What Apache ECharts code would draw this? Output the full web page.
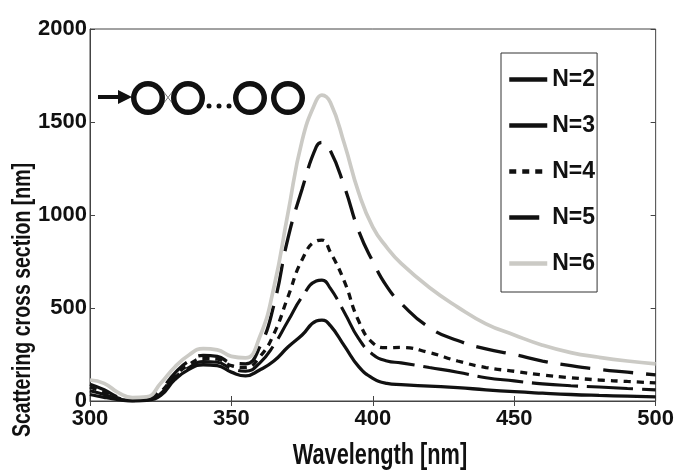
<!DOCTYPE html>
<html>
<head>
<meta charset="utf-8">
<script src="https://cdn.jsdelivr.net/npm/echarts@6/dist/echarts.min.js"></script>
<style>
  html, body { margin: 0; padding: 0; background: #fff; }
  #chart { width: 677px; height: 471px; }
</style>
</head>
<body>
<div id="chart"></div>
<script>
// wavelength (nm)
const wavelength = [300, 305, 310, 315, 320, 325, 330, 335, 340, 345, 350, 355, 360, 365, 370, 375, 380, 382, 385, 390, 395, 400, 405, 410, 420, 430, 440, 450, 460, 470, 480, 490, 500];

// scattering cross section (nm)
const n2 = [35, 20, 8, 0, 4, 30, 115, 170, 195, 190, 155, 135, 167, 215, 290, 355, 430, 435, 405, 295, 185, 122, 95, 88, 80, 72, 60, 50, 42, 35, 30, 26, 22];
const n3 = [55, 35, 12, 2, 6, 40, 125, 180, 212, 208, 175, 160, 204, 300, 430, 560, 645, 650, 605, 475, 335, 250, 215, 205, 180, 155, 125, 108, 92, 82, 75, 67, 60];
const n4 = [75, 45, 15, 3, 8, 50, 135, 195, 228, 225, 190, 180, 237, 360, 560, 760, 860, 865, 800, 640, 430, 312, 287, 288, 260, 215, 180, 160, 140, 125, 113, 105, 97];
const n5 = [90, 60, 20, 5, 8, 60, 150, 215, 245, 240, 205, 200, 290, 515, 875, 1140, 1366, 1390, 1345, 1150, 915, 750, 615, 525, 395, 325, 280, 250, 215, 190, 170, 155, 140];
const n6 = [113, 95, 45, 18, 22, 95, 183, 247, 282, 275, 240, 232, 344, 610, 1010, 1400, 1615, 1645, 1605, 1380, 1120, 935, 825, 740, 610, 505, 415, 355, 300, 260, 235, 215, 200];

const seriesNames = ['N=2', 'N=3', 'N=4', 'N=5', 'N=6'];

const xTicks = { min: 300, max: 500, step: 50 };
const yTicks = { min: 0, max: 2000, step: 500 };

const FONT = "'Liberation Sans', Arial, sans-serif";
const INK = '#111';

const chart = echarts.init(document.getElementById('chart'));

const zip = (ys) => wavelength.map((x, i) => [x, ys[i]]);

function lineSeries(name, ys, color, width, type) {
    return {
        name: name,
        type: 'line',
        data: zip(ys),
        showSymbol: false,
        symbol: 'none',
        smooth: 0.5,
        silent: true,
        lineStyle: { color: color, width: width, type: type },
        itemStyle: { color: color }
    };
}

// small inset sketch: arrow + chain of rings
const ringY = 98;
const rings = [148, 188, 250, 288].map(cx => ({
    type: 'ring', shape: { cx: cx, cy: ringY, r: 17, r0: 11.5 }, style: { fill: INK }
}));
const dots = [209, 219, 229].map(cx => ({
    type: 'circle', shape: { cx: cx, cy: 106, r: 2.5 }, style: { fill: INK }
}));

const option = {
    animation: false,
    backgroundColor: '#fff',
    grid: { left: 90, right: 21, top: 29, bottom: 70, show: true, borderColor: '#444', borderWidth: 1 },
    legend: {
        orient: 'vertical',
        left: 501,
        top: 53,
        data: seriesNames,
        selectedMode: false,
        itemWidth: 38,
        itemHeight: 14,
        itemGap: 23,
        padding: [15, 2, 17, 6],
        borderColor: '#333',
        borderWidth: 1,
        backgroundColor: '#fff',
        itemStyle: { opacity: 0, borderWidth: 0 },
        lineStyle: { width: 4.5 },
        textStyle: { fontFamily: FONT, fontWeight: 'bold', fontSize: 23, color: INK }
    },
    xAxis: [{
        type: 'value',
        min: xTicks.min, max: xTicks.max, interval: xTicks.step,
        axisLine: { lineStyle: { color: '#444', width: 1 } },
        axisTick: { inside: true, length: 5, lineStyle: { color: '#444' } },
        splitLine: { show: false },
        axisLabel: {
            fontFamily: FONT, fontWeight: 'bold', fontSize: 22, color: INK, margin: 7,
            formatter: (v) => String(v)
        }
    }, {
        type: 'value', position: 'top',
        min: xTicks.min, max: xTicks.max, interval: xTicks.step,
        axisLine: { show: false },
        axisTick: { inside: true, length: 5, lineStyle: { color: '#444' } },
        splitLine: { show: false },
        axisLabel: { show: false }
    }],
    yAxis: [{
        type: 'value',
        min: yTicks.min, max: yTicks.max, interval: yTicks.step,
        axisLine: { show: true, lineStyle: { color: '#444', width: 1 } },
        axisTick: { show: true, inside: true, length: 5, lineStyle: { color: '#444' } },
        splitLine: { show: false },
        axisLabel: {
            fontFamily: FONT, fontWeight: 'bold', fontSize: 22, color: INK, margin: 3,
            padding: [0, 0, 6, 0],
            formatter: (v) => String(v)
        }
    }, {
        type: 'value', position: 'right',
        min: yTicks.min, max: yTicks.max, interval: yTicks.step,
        axisLine: { show: false },
        axisTick: { show: true, inside: true, length: 5, lineStyle: { color: '#444' } },
        splitLine: { show: false },
        axisLabel: { show: false }
    }],
    graphic: [
        {
            type: 'text', x: 23, y: 300, rotation: Math.PI / 2, scaleX: 0.78,
            style: {
                text: 'Scattering cross section [nm]', fontFamily: FONT, fontWeight: 'bold',
                fontSize: 25, fill: INK, align: 'center', verticalAlign: 'middle'
            }
        },
        {
            type: 'text', x: 380, y: 456, scaleX: 0.75,
            style: {
                text: 'Wavelength [nm]', fontFamily: FONT, fontWeight: 'bold',
                fontSize: 29, fill: INK, align: 'center', verticalAlign: 'middle'
            }
        },
        { type: 'line', shape: { x1: 98, y1: 97, x2: 122, y2: 97 }, style: { stroke: INK, lineWidth: 4 } },
        { type: 'polygon', shape: { points: [[118, 90], [132, 97], [118, 104]] }, style: { fill: INK } },
        { type: 'line', shape: { x1: 163, y1: 91, x2: 173, y2: 104 }, style: { stroke: '#777', lineWidth: 1 } },
        { type: 'line', shape: { x1: 163, y1: 104, x2: 173, y2: 91 }, style: { stroke: '#777', lineWidth: 1 } }
    ].concat(rings, dots),
    series: [
        lineSeries('N=2', n2, INK, 3.3, 'solid'),
        lineSeries('N=3', n3, INK, 3.1, [46, 9]),
        lineSeries('N=4', n4, INK, 3.3, [7, 6]),
        lineSeries('N=5', n5, INK, 3.3, [30, 13]),
        lineSeries('N=6', n6, '#cbcac5', 3.7, 'solid')
    ]
};

chart.setOption(option);
</script>
</body>
</html>
